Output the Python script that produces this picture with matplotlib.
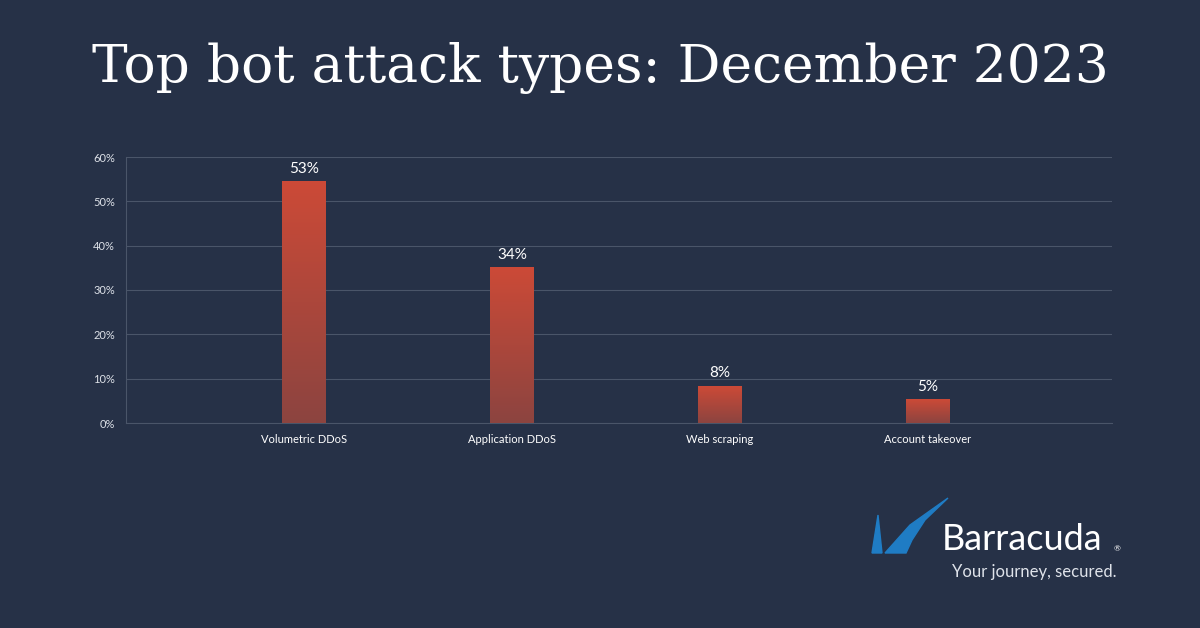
import matplotlib
matplotlib.use("Agg")
import matplotlib.pyplot as plt
import numpy as np
from matplotlib.patches import Polygon
from matplotlib.colors import LinearSegmentedColormap

categories = ["Volumetric DDoS", "Application DDoS", "Web scraping", "Account takeover"]
values = [54.4, 35.0, 8.3, 5.2]
labels = ["53%", "34%", "8%", "5%"]
yticks = [0, 10, 20, 30, 40, 50, 60]

BG = "#263147"
W, H = 1200, 628
fig = plt.figure(figsize=(12, 6.28), dpi=100, facecolor=BG)
ax = fig.add_axes([126/W, 1-423/H, (1112-126)/W, (423-157)/H], facecolor=BG)
x = np.arange(len(categories))
bw = 0.21
grad = np.linspace(0, 1, 256).reshape(-1, 1)
cmap = LinearSegmentedColormap.from_list("g", ["#8c4440", "#cc4a37"])
for xi, v, lab in zip(x, values, labels):
    ax.imshow(grad, extent=[xi-bw/2, xi+bw/2, 0, v], origin="lower", cmap=cmap, aspect="auto", zorder=3)
    ax.text(xi, v+1.3, lab, ha="center", va="bottom", color="white", fontsize=11, family="Lato")
ax.set_xlim(-0.856, 3.885); ax.set_ylim(0, 60)
ax.set_yticks(yticks)
ax.set_yticklabels([f"{t}%" for t in yticks], color="#dde1e8", fontsize=8, family="Lato")
ax.set_xticks(x)
ax.set_xticklabels(categories, color="#ffffff", fontsize=8, family="Lato")
ax.tick_params(length=0, pad=8)
ax.grid(axis="y", color="#4a5569", lw=0.8, zorder=0)
for s in ["top", "right"]:
    ax.spines[s].set_visible(False)
ax.spines["left"].set_color("#4a5569")
ax.spines["bottom"].set_color("#4a5569")

fig.text(0.5, 1-68/H, "Top bot attack types: December 2023", ha="center", va="center",
         color="white", fontsize=38.5, family="DejaVu Serif")

def P(pts):
    return [(px/W, 1-py/H) for px, py in pts]
fig.patches.append(Polygon(P([(872, 553), (878, 515), (882, 553)]), closed=True, transform=fig.transFigure, color="#1f7cc4"))
fig.patches.append(Polygon(P([(885, 553), (910, 525), (948, 498), (925, 520), (912, 540), (906, 553)]), closed=True, transform=fig.transFigure, color="#1f7cc4"))
fig.text(942/W, 1-540/H, "Barracuda", color="white", fontsize=26, family="Lato", va="center")
fig.text(1114/W, 1-549/H, "®", color="white", fontsize=6, family="Lato", va="center")
fig.text(1117/W, 1-572/H, "Your journey, secured.", color="#dfe3ea", fontsize=12, family="Lato", va="center", ha="right")

fig.savefig("out.png", dpi=100, facecolor=BG)
